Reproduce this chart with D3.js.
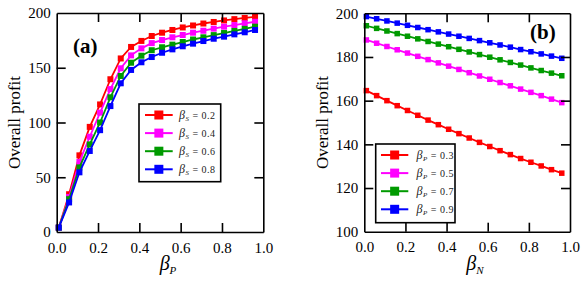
<!DOCTYPE html>
<html><head><meta charset="utf-8">
<script src="https://cdn.jsdelivr.net/npm/d3@7"></script>
<style>
body{margin:0;background:#fff;}
</style></head>
<body><svg id="c" width="582" height="281" font-family="Liberation Serif"></svg>
<script>
// ---------- data ----------
const xValues = [0.01,0.06,0.11,0.16,0.21,0.26,0.31,0.36,0.41,0.46,0.51,0.56,0.61,0.66,0.71,0.76,0.81,0.86,0.91,0.96];

// panel (a): overall profit vs beta_P, for beta_S
const aLabels = ["0.2","0.4","0.6","0.8"];
const aS02 = [4,34.5,70,96,116.5,139.5,158.5,169,174.5,179,182,184.5,186.8,188.6,190.4,191.8,193.2,194.4,195.5,196.5];
const aS04 = [4,32,64,87,109,130.5,149.5,161.3,167.7,172.5,175.3,177.8,179.9,182,183.8,185.7,187.5,189,190.6,192];
const aS06 = [4,30,59,80,100,123,142.5,154.6,161,166,168.7,171.1,173.5,175.8,177.8,179.8,181.7,183.6,185.5,187.5];
const aS08 = [4,27,54.5,74,93,115,135.8,148,155,159.8,163.7,166.8,169.6,172,174.4,176.5,178.4,180.5,182.4,184.5];

// panel (b): overall profit vs beta_N, for beta_P
const bLabels = ["0.3","0.5","0.7","0.9"];
const bP03 = [164.6,162.3,160.0,157.7,155.5,153.3,151.1,149.0,146.9,144.9,142.9,140.9,139.0,137.1,135.3,133.5,131.8,130.1,128.4,126.8];
const bP05 = [187.8,186.3,184.8,183.3,181.8,180.3,178.8,177.3,175.8,174.3,172.8,171.3,169.8,168.3,166.8,165.3,163.8,162.3,160.7,159.1];
const bP07 = [194.3,193.1,191.9,190.7,189.5,188.3,187.1,185.9,184.7,183.5,182.3,181.1,179.9,178.7,177.5,176.3,175.0,173.8,172.6,171.4];
const bP09 = [198.5,197.5,196.5,195.5,194.5,193.5,192.5,191.5,190.5,189.5,188.5,187.5,186.5,185.5,184.5,183.4,182.4,181.4,180.4,179.4];

const xTicks = [0,0.2,0.4,0.6,0.8,1.0];
const aYTicks = [0,50,100,150,200];
const bYTicks = [100,120,140,160,180,200];
const colors = ["#ff0000","#ff00ff","#009a00","#0000ff"];

const FONT = "Liberation Serif";
const svg = d3.select("#c");
const setFont = (sel,size)=>sel.attr("font-family",FONT).style("font-family",'"Liberation Serif"').style("font-size",size+"px");

function panel(opt){
  const x = d3.scaleLinear().domain([0,1]).range([opt.l,opt.r]);
  const y = d3.scaleLinear().domain(opt.yDomain).range([opt.b,opt.t]);
  const g = svg.append("g");
  const TL = 9;
  // lines + markers
  opt.series.forEach((s,i)=>{
    const pts = xValues.map((xv,j)=>[xv,s[j]]);
    g.append("path").datum(pts)
      .attr("fill","none").attr("stroke",colors[i]).attr("stroke-width",1.8)
      .attr("d",d3.line().x(d=>x(d[0])).y(d=>y(d[1])));
    g.selectAll(null).data(pts).enter().append("rect")
      .attr("x",d=>x(d[0])-opt.ms/2).attr("y",d=>y(d[1])-opt.ms/2)
      .attr("width",opt.ms).attr("height",opt.ms).attr("fill",colors[i]);
  });
  const style = sel=>{
    sel.attr("font-family",FONT).attr("font-size",15);
    sel.select(".domain").attr("stroke","#000").attr("stroke-width",1.6);
    sel.selectAll(".tick line").attr("stroke","#000").attr("stroke-width",1.6);
    sel.selectAll("text").call(setFont,15).attr("fill","#000");
  };
  g.append("g").attr("transform",`translate(0,${opt.b})`)
    .call(d3.axisBottom(x).tickValues(xTicks).tickFormat(d3.format(".1f")).tickSize(-TL).tickSizeOuter(0).tickPadding(10)).call(style);
  g.append("g").attr("transform",`translate(0,${opt.t})`)
    .call(d3.axisTop(x).tickValues(xTicks).tickFormat("").tickSize(-TL).tickSizeOuter(0)).call(style);
  g.append("g").attr("transform",`translate(${opt.l},0)`)
    .call(d3.axisLeft(y).tickValues(opt.yTicks).tickSize(-TL).tickSizeOuter(0).tickPadding(6)).call(style);
  g.append("g").attr("transform",`translate(${opt.r},0)`)
    .call(d3.axisRight(y).tickValues(opt.yTicks).tickFormat("").tickSize(-TL).tickSizeOuter(0)).call(style);
  g.selectAll(".tick").filter(d=>d===xTicks[0]||d===xTicks[xTicks.length-1]||d===opt.yDomain[0]||d===opt.yDomain[1]).select("line").attr("stroke-width",0);

  // y title
  g.append("text").attr("transform",`translate(${opt.ytx},${(opt.t+opt.b)/2}) rotate(-90)`)
    .attr("text-anchor","middle").call(setFont,17).text("Overall profit");
  // x title
  const xt = g.append("text").attr("x",opt.xtx).attr("y",270).attr("text-anchor","middle").call(setFont,20);
  xt.append("tspan").attr("font-style","italic").style("font-style","italic").text("β");
  xt.append("tspan").attr("font-style","italic").style("font-style","italic").style("font-size","11px").attr("dy",4).text(opt.sub);
  // panel letter
  g.append("text").attr("x",opt.lx).attr("y",opt.ly).call(setFont,21).attr("font-weight","bold").style("font-weight","bold").text(opt.letter);

  // legend
  const L = opt.leg;
  g.append("rect").attr("x",L.x).attr("y",L.y).attr("width",L.w).attr("height",L.h)
    .attr("fill","#fff").attr("stroke","#000").attr("stroke-width",1.6);
  opt.labels.forEach((lab,i)=>{
    const yy = L.y0 + i*L.dy;
    g.append("line").attr("x1",L.lx1).attr("x2",L.lx2).attr("y1",yy).attr("y2",yy)
      .attr("stroke",colors[i]).attr("stroke-width",2);
    g.append("rect").attr("x",(L.lx1+L.lx2)/2-L.ms/2).attr("y",yy-L.ms/2)
      .attr("width",L.ms).attr("height",L.ms).attr("fill",colors[i]);
    const t = g.append("text").attr("x",L.tx).attr("y",yy+3.5).call(setFont,10).style("letter-spacing","0.5px").attr("fill","#222");
    t.append("tspan").style("font-style","italic").style("font-size","12px").text("β");
    t.append("tspan").style("font-style","italic").style("font-size","7px").attr("dy",2).text(opt.legSub);
    t.append("tspan").attr("dy",-2).text(" = "+lab);
  });
}

panel({l:56.7,r:263.3,t:13,b:232,yDomain:[0,200],yTicks:aYTicks,
  series:[aS02,aS04,aS06,aS08],ms:6,ytx:20,xtx:168,sub:"P",letter:"(a)",lx:73,ly:52.5,
  labels:aLabels,legSub:"S",
  leg:{x:139,y:104,w:81.7,h:77.7,y0:115,dy:18.1,lx1:145,lx2:172.7,ms:9,tx:179}});

panel({l:364.3,r:570,t:13.3,b:231.7,yDomain:[100,200],yTicks:bYTicks,
  series:[bP03,bP05,bP07,bP09],ms:5.5,ytx:327.5,xtx:475,sub:"N",letter:"(b)",lx:530,ly:38.5,
  labels:bLabels,legSub:"P",
  leg:{x:375.7,y:144,w:79.3,h:78.7,y0:155,dy:18.1,lx1:381,lx2:408.3,ms:9,tx:416.5}});
</script>
</body></html>
